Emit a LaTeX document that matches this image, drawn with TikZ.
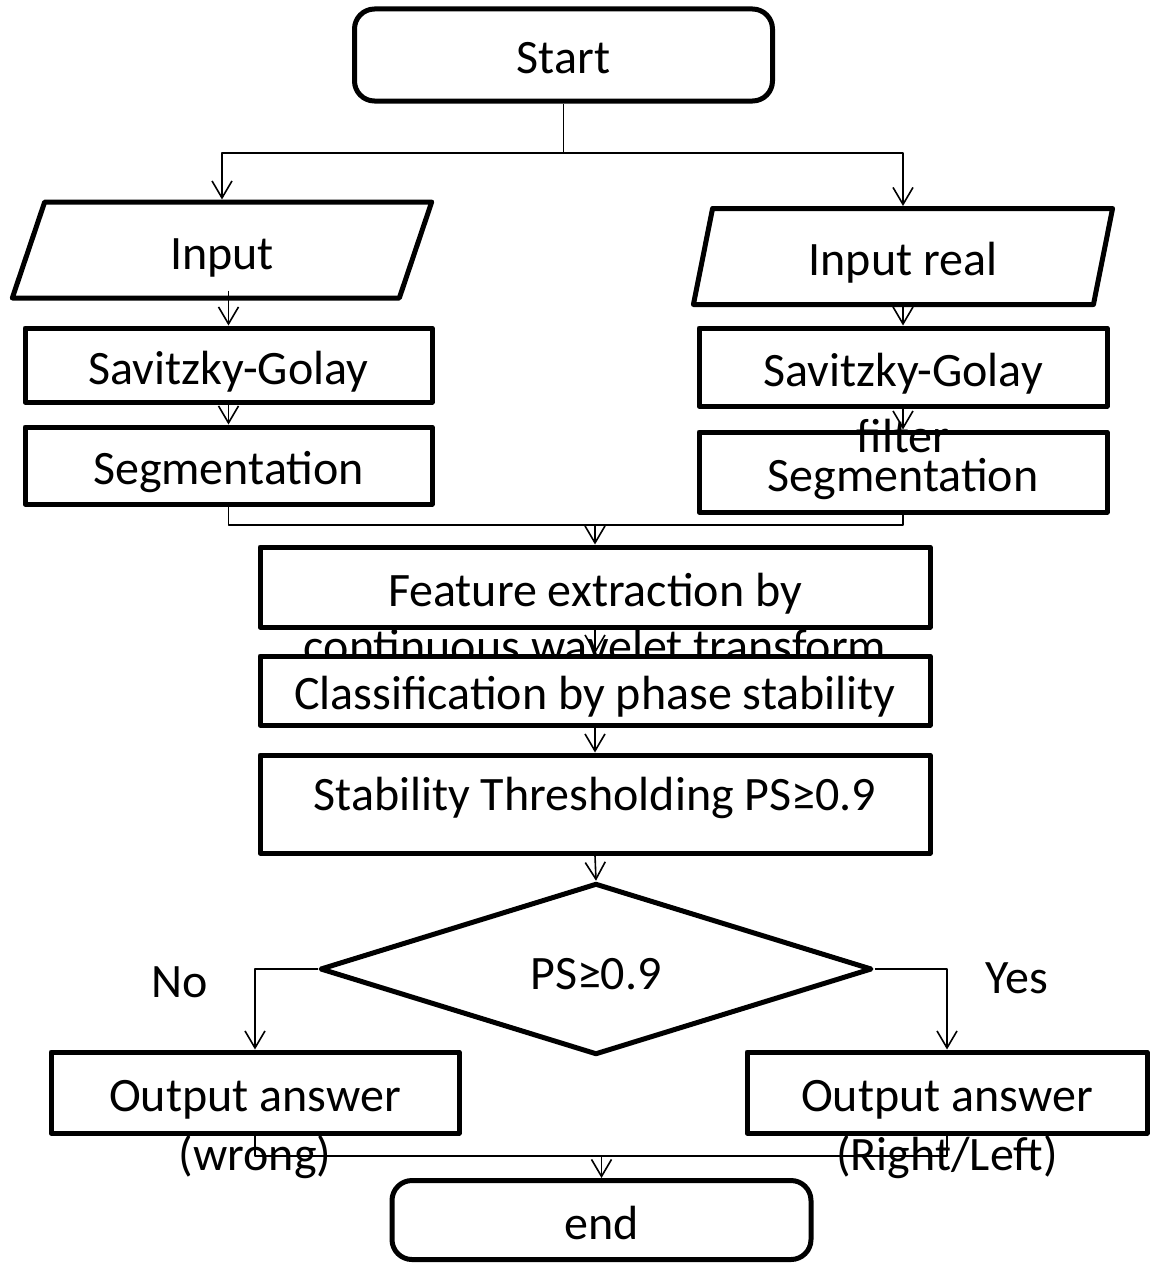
\documentclass[tikz,border=0pt]{standalone}
\usepackage{fontspec}
\setmainfont{Carlito}
\usetikzlibrary{positioning,shapes.geometric,arrows.meta}

\begin{document}
\begin{tikzpicture}[x=1pt,y=-1pt,line join=round]
\tikzset{T/.style={draw,line width=5pt,rounded corners=20pt,inner sep=0pt,minimum width=418pt,minimum height=92pt,text height=38pt,text depth=0pt,font=\fontsize{48}{58}\selectfont}}
\tikzset{IO/.style={draw,line width=5pt,trapezium,trapezium left angle=76,trapezium right angle=104,trapezium stretches=true,inner sep=0pt,minimum width=420pt,minimum height=96pt,text height=38pt,text depth=0pt,font=\fontsize{48}{58}\selectfont}}
\tikzset{B/.style={draw,line width=5pt,inner sep=0pt,minimum width=407pt,text height=38pt,text depth=0pt,font=\fontsize{48}{58}\selectfont}}
\tikzset{W/.style={B,minimum width=670pt}}
\tikzset{D/.style={draw,line width=5pt,diamond,inner sep=0pt,minimum width=552pt,minimum height=152pt,text height=40pt,text depth=0pt,font=\fontsize{48}{58}\selectfont}}
\tikzset{txt/.style={inner sep=0pt,anchor=base,font=\fontsize{48}{58}\selectfont}}
\tikzset{arr/.style={line width=1.6pt,-{Straight Barb[length=17pt,width=20pt]}}}
\tikzset{ln/.style={line width=1.6pt}}

  \useasboundingbox (0,0) rectangle (1151,1263);

  % top part
  \node[T] (start) at (563.5,55) {Start};
  \node[IO] (in1) at (222,250) {Input};
  \node[IO] (in2) at (903,256.5) {Input real};

  \node[B,minimum height=74pt] (sg1) at (228.5,365) {Savitzky-Golay};
  \node[B,minimum height=77pt] (seg1) at (228.5,465.5) {Segmentation};
  \node[B,minimum height=78pt,minimum width=408pt] (sg2) at (903,367) {Savitzky-Golay};
  \node[B,minimum height=80pt,minimum width=408pt] (seg2) at (903,472) {Segmentation};
  \node[txt] (sg2b) at (903,452) {filter};

  % middle part
  \node[W,minimum height=80pt] (fe) at (595,587) {Feature extraction by};
  \node[txt] (feb) at (595,662) {continuous wavelet transform};
  \node[W,minimum height=69pt,fill=white] (cl) at (595,690.5) {Classification by phase stability};
  \node[W,minimum height=98pt,text depth=26pt] (st) at (595,804) {Stability Thresholding PS≥0.9};
  \node[D] (dec) at (596,969) {PS≥0.9};
  \node[txt] (no) at (180,997) {No};
  \node[txt] (yes) at (1017,993) {Yes};

  % bottom part
  \node[B,minimum height=81pt,minimum width=408pt] (ol) at (255,1092.5) {Output answer};
  \node[txt] (olb) at (255,1170) {(wrong)};
  \node[B,minimum height=81pt,minimum width=400pt] (or) at (947,1092.5) {Output answer};
  \node[txt] (orb) at (947,1170) {(Right/Left)};
  \node[T,minimum height=79pt,minimum width=419pt] (end) at (601.5,1220) {end};

  \coordinate (j0) at (563.5,153);
  \coordinate (j1) at (595,525);
  \coordinate (j2) at (601.5,1156);

  \draw[ln] (start.south) -- (j0);
  \draw[arr] (j0) -| (in1.center |- in1.north);
  \draw[arr] (j0) -| (in2.center |- in2.north);
  \draw[arr] ([yshift=10pt]sg1.north |- in1.south) -- (sg1.north);
  \draw[arr] (in2.south) -- (sg2.north);
  \draw[arr] (sg1.south) -- (seg1.north);
  \draw[arr] (sg2.south) -- (seg2.north);
  \draw[ln] (seg1.south) |- (j1) -| (seg2.south);
  \draw[arr] (j1) -- (fe.north);
  \draw[arr] (fe.south) -- (cl.north);
  \draw[arr] (cl.south) -- (st.north);
  \draw[arr] (st.south) -- (dec.north);
  \draw[arr] (dec.west) -| (ol.north);
  \draw[arr] (dec.east) -| (or.north);
  \draw[ln] (ol.south) |- (j2) -| (or.south);
  \draw[arr] (j2) -- (end.north);
\end{tikzpicture}
\end{document}
